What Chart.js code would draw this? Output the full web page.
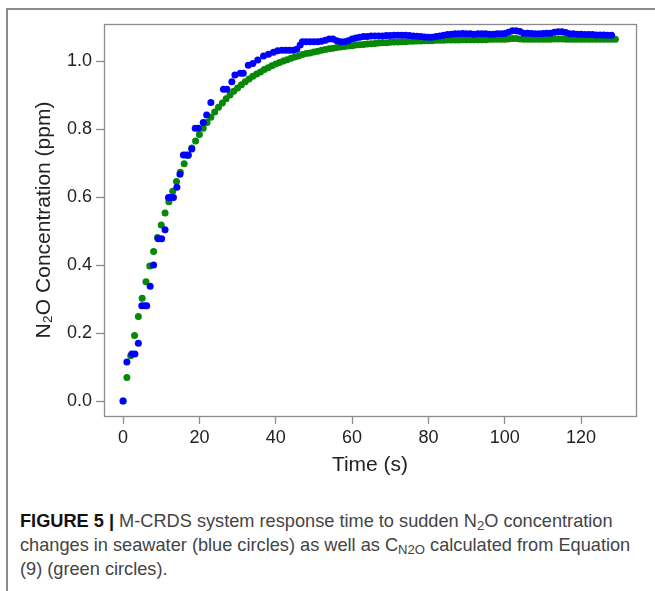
<!DOCTYPE html>
<html>
<head>
<meta charset="utf-8">
<script src="https://cdn.jsdelivr.net/npm/chart.js@4"></script>
<style>
  body { margin: 0; background: #fff; }
  #wrap { position: relative; width: 655px; height: 591px; overflow: hidden; background: #fff; }
  #frameTop { position: absolute; left: 7px; top: 8px; width: 660px; height: 0; border-top: 2px solid #8c8c8c; }
  #frameLeft { position: absolute; left: 6px; top: 8px; width: 0; height: 600px; border-left: 2px solid #8c8c8c; }
  #chart { position: absolute; left: 0; top: 0; }
  #caption {
    position: absolute; left: 20px; top: 509px; width: 630px;
    font-family: "Liberation Sans", Arial, sans-serif; font-size: 18.2px; line-height: 24px; color: #444;
    white-space: nowrap;
  }
  #caption b { color: #111; }
  #caption sub { font-size: 72%; vertical-align: -3px; line-height: 0; }
</style>
</head>
<body>
<div id="wrap">
  <div id="frameTop"></div>
  <div id="frameLeft"></div>
  <canvas id="chart" width="655" height="490"></canvas>
  <div id="caption"><b>FIGURE 5 |</b> M-CRDS system response time to sudden N<sub>2</sub>O concentration<br>changes in seawater (blue circles) as well as C<sub>N2O</sub> calculated from Equation<br>(9) (green circles).</div>
</div>
<script>
// measured N2O (blue circles)
var blueTime = [0, 1, 2.3, 3.1, 4, 4.9, 5.6, 6.2, 7.1, 8, 9.2, 10.1, 11, 11.9, 12.5, 13.2, 14.1, 14.9,
    15.8, 16.5, 17.1, 18, 18.9, 19.7, 21, 21.9, 23, 26.3, 27.2, 28.5, 29.3, 30.7, 31.5, 32.8, 34, 35.3,
    36.8, 38.1, 39.4, 40.5, 41.6, 42.6, 43.6, 44.6, 45.5, 46.4, 47, 48, 49, 50, 51, 52, 53, 54, 55, 56,
    57, 58, 59, 60, 61, 62, 63, 64, 65, 66, 67, 68, 69, 70, 71, 72, 73, 74, 75, 76, 77, 78, 79, 80, 81,
    82, 83, 84, 85, 86, 87, 88, 89, 90, 91, 92, 93, 94, 95, 96, 97, 98, 99, 100, 101, 102, 103, 104,
    105, 106, 107, 108, 109, 110, 111, 112, 113, 114, 115, 116, 117, 118, 119, 120, 121, 122, 123, 124,
    125, 126, 127, 128]
var blueConc = [0.000, 0.115, 0.138, 0.138, 0.170, 0.280, 0.280, 0.280, 0.338, 0.400, 0.477, 0.477,
    0.504, 0.599, 0.599, 0.599, 0.629, 0.667, 0.724, 0.724, 0.724, 0.741, 0.802, 0.802, 0.819, 0.841,
    0.878, 0.917, 0.917, 0.939, 0.959, 0.964, 0.964, 0.988, 0.993, 1.003, 1.015, 1.020, 1.026, 1.030,
    1.032, 1.032, 1.032, 1.032, 1.035, 1.047, 1.057, 1.057, 1.057, 1.057, 1.057, 1.058, 1.061, 1.065,
    1.065, 1.060, 1.057, 1.057, 1.060, 1.065, 1.068, 1.070, 1.072, 1.072, 1.074, 1.074, 1.074, 1.074,
    1.075, 1.075, 1.076, 1.076, 1.076, 1.076, 1.075, 1.074, 1.073, 1.072, 1.071, 1.070, 1.070, 1.072,
    1.074, 1.076, 1.078, 1.079, 1.080, 1.080, 1.081, 1.080, 1.080, 1.079, 1.080, 1.080, 1.080, 1.079,
    1.079, 1.080, 1.080, 1.081, 1.085, 1.089, 1.089, 1.087, 1.082, 1.082, 1.081, 1.080, 1.080, 1.081,
    1.082, 1.082, 1.085, 1.086, 1.086, 1.084, 1.080, 1.080, 1.079, 1.079, 1.078, 1.078, 1.078, 1.077,
    1.077, 1.077, 1.076, 1.076]

// C_N2O from equation (9) (green circles)
var greenTime = [0, 1, 2, 3, 4, 5, 6, 7, 8, 9, 10, 11, 12, 13, 14, 15, 16, 17, 18, 19, 20, 21, 22, 23,
    24, 25, 26, 27, 28, 29, 30, 31, 32, 33, 34, 35, 36, 37, 38, 39, 40, 41, 42, 43, 44, 45, 46, 47, 48,
    49, 50, 51, 52, 53, 54, 55, 56, 57, 58, 59, 60, 61, 62, 63, 64, 65, 66, 67, 68, 69, 70, 71, 72, 73,
    74, 75, 76, 77, 78, 79, 80, 81, 82, 83, 84, 85, 86, 87, 88, 89, 90, 91, 92, 93, 94, 95, 96, 97, 98,
    99, 100, 101, 102, 103, 104, 105, 106, 107, 108, 109, 110, 111, 112, 113, 114, 115, 116, 117, 118,
    119, 120, 121, 122, 123, 124, 125, 126, 127, 128, 129]
var greenConc = [0.000, 0.069, 0.133, 0.193, 0.249, 0.302, 0.351, 0.397, 0.440, 0.481, 0.518, 0.553,
    0.586, 0.617, 0.646, 0.673, 0.698, 0.722, 0.744, 0.765, 0.784, 0.802, 0.819, 0.835, 0.850, 0.864,
    0.877, 0.889, 0.900, 0.911, 0.921, 0.930, 0.939, 0.947, 0.955, 0.962, 0.968, 0.975, 0.980, 0.986,
    0.991, 0.996, 1.000, 1.004, 1.008, 1.012, 1.015, 1.019, 1.022, 1.024, 1.027, 1.029, 1.032, 1.034,
    1.036, 1.038, 1.040, 1.041, 1.043, 1.044, 1.045, 1.047, 1.048, 1.049, 1.050, 1.051, 1.052, 1.053,
    1.054, 1.054, 1.055, 1.056, 1.056, 1.057, 1.057, 1.058, 1.058, 1.059, 1.059, 1.060, 1.060, 1.060,
    1.061, 1.061, 1.061, 1.062, 1.062, 1.062, 1.062, 1.063, 1.063, 1.063, 1.063, 1.063, 1.063, 1.063,
    1.064, 1.064, 1.064, 1.064, 1.064, 1.065, 1.066, 1.066, 1.065, 1.064, 1.064, 1.064, 1.064, 1.064,
    1.064, 1.064, 1.064, 1.065, 1.065, 1.065, 1.064, 1.064, 1.064, 1.064, 1.064, 1.064, 1.064, 1.064,
    1.064, 1.064, 1.064, 1.064, 1.064, 1.064]

var xTicks = [0, 20, 40, 60, 80, 100, 120]
var yTicks = [0, 0.2, 0.4, 0.6, 0.8, 1.0]

function pairs(xs, ys) {
    return xs.map((x, i) => ({ x: x, y: ys[i] }))
}

// grey box round the plotting area
var boxPlugin = {
    id: 'box',
    beforeDatasetsDraw(chart) {
        var a = chart.chartArea
        var c = chart.ctx
        c.save()
        c.strokeStyle = '#8c8c8c'
        c.lineWidth = 1.3
        c.strokeRect(Math.round(a.left) + 0.5, Math.round(a.top) + 0.5,
            Math.round(a.right - a.left), Math.round(a.bottom - a.top))
        c.restore()
    }
}

Chart.defaults.font.family = '"Liberation Sans", Arial, sans-serif'

const ctx = document.getElementById('chart').getContext('2d')
var chart = new Chart(ctx, {
    type: 'scatter',
    data: {
        datasets: [{
                label: 'Measured',
                data: pairs(blueTime, blueConc),
                backgroundColor: '#0000ff',
                borderColor: '#0000ff',
                borderWidth: 0,
                pointRadius: 3.5,
                order: 0
            },
            {
                label: 'Equation (9)',
                data: pairs(greenTime, greenConc),
                backgroundColor: '#078807',
                borderColor: '#078807',
                borderWidth: 0,
                pointRadius: 3.5,
                order: 1
            }
        ]
    },
    options: {
        responsive: false,
        animation: false,
        layout: { padding: { top: 24, right: 19, left: 0, bottom: 0 } },
        plugins: {
            legend: { display: false },
            tooltip: { enabled: false }
        },
        scales: {
            x: {
                type: 'linear',
                min: -5,
                max: 134.4,
                afterBuildTicks: (axis) => { axis.ticks = xTicks.map(v => ({ value: v })) },
                afterFit: (axis) => { axis.height = 74 },
                border: { display: false },
                grid: { drawOnChartArea: false, drawTicks: true, tickLength: 8, color: '#8c8c8c', tickWidth: 1.3 },
                ticks: { font: { size: 18 }, color: '#222', padding: 3, maxRotation: 0, autoSkip: false },
                title: { display: true, text: 'Time (s)', font: { size: 21 }, color: '#222', padding: { top: 0, bottom: 12 } }
            },
            y: {
                min: -0.044,
                max: 1.109,
                afterBuildTicks: (axis) => { axis.ticks = yTicks.map(v => ({ value: v })) },
                afterFit: (axis) => { axis.width = 104 },
                border: { display: false },
                grid: { drawOnChartArea: false, drawTicks: true, tickLength: 8, color: '#8c8c8c', tickWidth: 1.3 },
                ticks: {
                    font: { size: 18 },
                    color: '#222',
                    padding: 4,
                    autoSkip: false,
                    callback: (v) => v.toFixed(1)
                },
                title: { display: true, text: 'N\u2082O Concentration (ppm)', font: { size: 21 }, color: '#222', padding: { top: 32, bottom: 0 } }
            }
        }
    },
    plugins: [boxPlugin]
})
</script>
</body>
</html>
